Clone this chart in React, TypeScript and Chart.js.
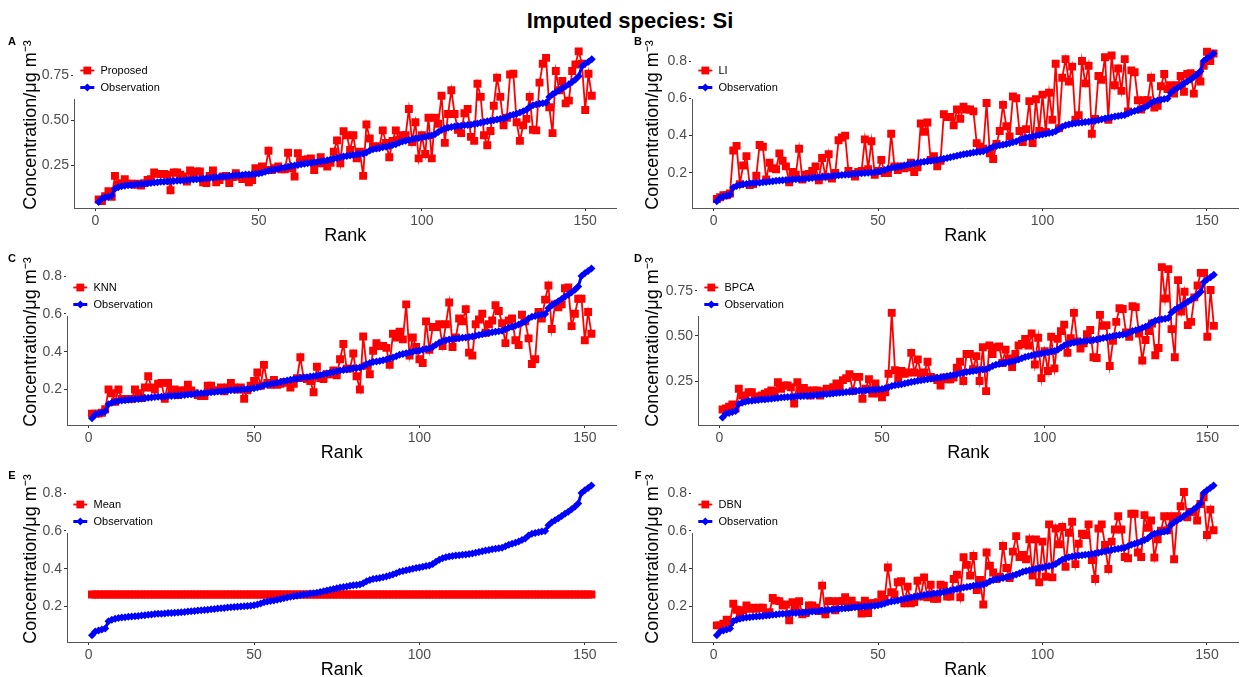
import React, { useEffect, useRef } from "react";
import { Chart, registerables } from "chart.js";

Chart.register(...registerables);

const FONT = "'Liberation Sans', Arial, Helvetica, sans-serif";

const TITLE = "Imputed species: Si";
const X_TITLE = "Rank";
const Y_TITLE = "Concentration/\u03bcg m\u207b\u00b3";
const OBS_LABEL = "Observation";

const RANK_TICKS = [0, 50, 100, 150];
const Y_TICKS_QUARTER = [0.25, 0.5, 0.75];
const Y_TICKS_FIFTH = [0.2, 0.4, 0.6, 0.8];

const OBSERVATION = [
  0.048, 0.068, 0.073, 0.078, 0.083, 0.122, 0.13, 0.135, 0.139, 0.141,
  0.143, 0.145, 0.147, 0.148, 0.15, 0.152, 0.154, 0.156, 0.158, 0.16,
  0.161, 0.162, 0.163, 0.165, 0.166, 0.167, 0.168, 0.17, 0.171, 0.173,
  0.175, 0.176, 0.178, 0.18, 0.181, 0.183, 0.185, 0.187, 0.189, 0.19,
  0.192, 0.194, 0.196, 0.197, 0.198, 0.2, 0.201, 0.202, 0.204, 0.206,
  0.21, 0.216, 0.222, 0.226, 0.229, 0.232, 0.236, 0.24, 0.244, 0.248,
  0.251, 0.254, 0.257, 0.26, 0.263, 0.265, 0.268, 0.27, 0.273, 0.276,
  0.28, 0.284, 0.288, 0.292, 0.296, 0.3, 0.303, 0.306, 0.309, 0.312,
  0.314, 0.316, 0.323, 0.333, 0.34, 0.345, 0.348, 0.351, 0.355, 0.359,
  0.364, 0.369, 0.376, 0.383, 0.388, 0.392, 0.396, 0.4, 0.403, 0.406,
  0.41, 0.414, 0.417, 0.424, 0.436, 0.447, 0.455, 0.46, 0.464, 0.467,
  0.469, 0.471, 0.473, 0.475, 0.477, 0.48, 0.484, 0.488, 0.492, 0.496,
  0.499, 0.502, 0.505, 0.508, 0.511, 0.518, 0.527, 0.532, 0.537, 0.544,
  0.551, 0.56, 0.575, 0.584, 0.589, 0.593, 0.596, 0.599, 0.63, 0.645,
  0.656, 0.666, 0.679, 0.69, 0.701, 0.714, 0.727, 0.745, 0.8, 0.815,
  0.826, 0.84,
];

const PROPOSED = [
  0.062, 0.053, 0.08, 0.108, 0.077, 0.193, 0.144, 0.153, 0.175, 0.15,
  0.15, 0.144, 0.15, 0.139, 0.153, 0.17, 0.175, 0.212, 0.204, 0.204,
  0.204, 0.199, 0.113, 0.212, 0.212, 0.199, 0.19, 0.162, 0.223, 0.199,
  0.217, 0.217, 0.157, 0.153, 0.193, 0.223, 0.157, 0.17, 0.19, 0.193,
  0.153, 0.186, 0.208, 0.19, 0.175, 0.193, 0.157, 0.17, 0.235, 0.217,
  0.245, 0.226, 0.332, 0.226, 0.235, 0.245, 0.23, 0.23, 0.321, 0.235,
  0.19, 0.318, 0.272, 0.281, 0.285, 0.29, 0.226, 0.263, 0.296, 0.263,
  0.245, 0.266, 0.327, 0.39, 0.263, 0.44, 0.418, 0.336, 0.418, 0.29,
  0.327, 0.193, 0.478, 0.4, 0.358, 0.35, 0.358, 0.445, 0.376, 0.296,
  0.387, 0.445, 0.394, 0.418, 0.418, 0.564, 0.381, 0.49, 0.29, 0.418,
  0.314, 0.515, 0.29, 0.515, 0.482, 0.637, 0.376, 0.536, 0.668, 0.536,
  0.449, 0.43, 0.54, 0.564, 0.409, 0.387, 0.704, 0.631, 0.418, 0.363,
  0.442, 0.582, 0.737, 0.631, 0.473, 0.515, 0.755, 0.759, 0.49, 0.387,
  0.473, 0.509, 0.631, 0.449, 0.445, 0.71, 0.814, 0.847, 0.573, 0.43,
  0.774, 0.668, 0.719, 0.595, 0.61, 0.774, 0.81, 0.883, 0.814, 0.558,
  0.759, 0.637,
];

const LI = [
  0.06, 0.07, 0.08, 0.08, 0.09, 0.32, 0.345, 0.14, 0.24, 0.29,
  0.135, 0.14, 0.185, 0.35, 0.34, 0.165, 0.255, 0.225, 0.22, 0.305,
  0.265, 0.235, 0.15, 0.205, 0.19, 0.33, 0.165, 0.19, 0.195, 0.21,
  0.235, 0.16, 0.28, 0.18, 0.3, 0.17, 0.2, 0.375, 0.39, 0.4,
  0.21, 0.195, 0.18, 0.205, 0.21, 0.38, 0.22, 0.37, 0.19, 0.21,
  0.27, 0.2, 0.2, 0.41, 0.235, 0.215, 0.235, 0.225, 0.23, 0.255,
  0.205, 0.23, 0.465, 0.42, 0.47, 0.27, 0.29, 0.235, 0.265, 0.515,
  0.5, 0.5, 0.455, 0.54, 0.49, 0.555, 0.54, 0.54, 0.53, 0.36,
  0.34, 0.33, 0.575, 0.305, 0.275, 0.355, 0.425, 0.565, 0.45, 0.395,
  0.61, 0.6, 0.425, 0.365, 0.435, 0.585, 0.36, 0.595, 0.425, 0.62,
  0.42, 0.63, 0.485, 0.785, 0.44, 0.71, 0.81, 0.69, 0.77, 0.485,
  0.51, 0.8, 0.68, 0.775, 0.41, 0.49, 0.72, 0.7, 0.82, 0.485,
  0.83, 0.67, 0.76, 0.64, 0.81, 0.53, 0.75, 0.74, 0.59, 0.54,
  0.59, 0.59, 0.71, 0.55, 0.56, 0.665, 0.73, 0.65, 0.67, 0.625,
  0.67, 0.72, 0.635, 0.73, 0.735, 0.625, 0.725, 0.69, 0.775, 0.85,
  0.8, 0.84,
];

const KNN = [
  0.072, 0.072, 0.072, 0.077, 0.095, 0.2, 0.18, 0.135, 0.2, 0.15,
  0.15, 0.15, 0.15, 0.2, 0.18, 0.155, 0.21, 0.27, 0.21, 0.2,
  0.23, 0.235, 0.15, 0.235, 0.195, 0.2, 0.17, 0.195, 0.195, 0.225,
  0.195, 0.18, 0.17, 0.165, 0.165, 0.22, 0.22, 0.195, 0.195, 0.21,
  0.19, 0.21, 0.235, 0.21, 0.2, 0.21, 0.15, 0.195, 0.22, 0.245,
  0.29, 0.22, 0.33, 0.235, 0.225, 0.25, 0.225, 0.23, 0.24, 0.235,
  0.21, 0.23, 0.26, 0.37, 0.26, 0.255, 0.245, 0.185, 0.32, 0.26,
  0.255, 0.28, 0.28, 0.3, 0.275, 0.36, 0.44, 0.31, 0.31, 0.39,
  0.27, 0.2, 0.48, 0.325, 0.28, 0.405, 0.445, 0.43, 0.43, 0.42,
  0.33, 0.495, 0.475, 0.505, 0.465, 0.65, 0.38, 0.475, 0.425, 0.36,
  0.34, 0.56, 0.41, 0.53, 0.53, 0.545, 0.43, 0.545, 0.66, 0.425,
  0.475, 0.575, 0.56, 0.625, 0.395, 0.38, 0.545, 0.57, 0.6, 0.5,
  0.545, 0.565, 0.645, 0.615, 0.55, 0.445, 0.565, 0.575, 0.46, 0.435,
  0.595, 0.56, 0.47, 0.335, 0.36, 0.61, 0.575, 0.675, 0.75, 0.52,
  0.65, 0.635, 0.65, 0.735, 0.74, 0.535, 0.6, 0.68, 0.68, 0.46,
  0.61, 0.495,
];

const BPCA = [
  0.092, 0.098, 0.107, 0.12, 0.098, 0.207, 0.17, 0.152, 0.188, 0.188,
  0.152, 0.165, 0.17, 0.18, 0.188, 0.197, 0.188, 0.243, 0.207, 0.225,
  0.225, 0.215, 0.125, 0.243, 0.197, 0.212, 0.197, 0.17, 0.197, 0.197,
  0.17, 0.194, 0.207, 0.188, 0.215, 0.237, 0.215, 0.255, 0.266, 0.288,
  0.194, 0.273, 0.273, 0.152, 0.207, 0.26, 0.18, 0.237, 0.18, 0.16,
  0.188, 0.29, 0.628, 0.31, 0.266, 0.306, 0.29, 0.297, 0.406, 0.297,
  0.37, 0.29, 0.297, 0.357, 0.273, 0.266, 0.255, 0.225, 0.27, 0.26,
  0.26, 0.27, 0.324, 0.357, 0.25, 0.4, 0.4, 0.315, 0.388, 0.25,
  0.437, 0.194, 0.447, 0.4, 0.437, 0.442, 0.35, 0.424, 0.375, 0.328,
  0.4, 0.447, 0.455, 0.484, 0.447, 0.514, 0.342, 0.49, 0.266, 0.415,
  0.306, 0.496, 0.32, 0.484, 0.527, 0.563, 0.406, 0.487, 0.628, 0.47,
  0.43, 0.46, 0.51, 0.533, 0.382, 0.378, 0.617, 0.556, 0.56, 0.333,
  0.473, 0.578, 0.654, 0.65, 0.52, 0.496, 0.665, 0.66, 0.514, 0.364,
  0.478, 0.527, 0.569, 0.393, 0.433, 0.882, 0.708, 0.871, 0.538, 0.382,
  0.81, 0.636, 0.745, 0.56, 0.578, 0.714, 0.78, 0.85, 0.85, 0.496,
  0.755, 0.556,
];

const MEAN_LEVEL = 0.263;

const DBN = [
  0.1, 0.1, 0.109, 0.13, 0.118, 0.214, 0.183, 0.162, 0.18, 0.205,
  0.188, 0.193, 0.188, 0.193, 0.193, 0.158, 0.17, 0.245, 0.231, 0.228,
  0.205, 0.21, 0.127, 0.223, 0.2, 0.228, 0.158, 0.165, 0.205, 0.205,
  0.193, 0.176, 0.31, 0.158, 0.228, 0.228, 0.18, 0.228, 0.228, 0.249,
  0.197, 0.231, 0.205, 0.205, 0.162, 0.231, 0.165, 0.217, 0.217, 0.223,
  0.263, 0.24, 0.406, 0.275, 0.263, 0.328, 0.333, 0.217, 0.305, 0.217,
  0.223, 0.336, 0.252, 0.354, 0.249, 0.315, 0.24, 0.24, 0.315, 0.31,
  0.252, 0.252, 0.345, 0.368, 0.249, 0.46, 0.42, 0.363, 0.467, 0.287,
  0.34, 0.21, 0.485, 0.415, 0.38, 0.345, 0.357, 0.52, 0.403, 0.35,
  0.49, 0.572, 0.462, 0.473, 0.45, 0.555, 0.363, 0.555, 0.328, 0.543,
  0.357, 0.634, 0.354, 0.612, 0.529, 0.62, 0.41, 0.59, 0.648, 0.424,
  0.532, 0.585, 0.578, 0.634, 0.445, 0.345, 0.612, 0.634, 0.525, 0.398,
  0.543, 0.607, 0.677, 0.607, 0.462, 0.455, 0.69, 0.69, 0.485, 0.462,
  0.683, 0.616, 0.655, 0.459, 0.555, 0.6, 0.677, 0.603, 0.677, 0.45,
  0.677, 0.73, 0.805, 0.672, 0.7, 0.7, 0.655, 0.742, 0.777, 0.578,
  0.712, 0.603,
];

type PanelDef = {
  letter: string;
  method: string;
  values: number[];
  yTicks: number[];
  decimals: number;
  yMin: number;
  yMax: number;
  left: number;
  top: number;
  yWidth: number;
  letterX: number;
};

const CANVAS_W = 622;
const CANVAS_H = 213;
const PAD_TOP = 10;
const X_MIN = -6.55;
const X_MAX = 159.55;

const PANELS: PanelDef[] = [
  { letter: "A", method: "Proposed", values: PROPOSED, yTicks: Y_TICKS_QUARTER, decimals: 2, yMin: 0.015, yMax: 0.935, left: 0, top: 32, yWidth: 74, letterX: 12 },
  { letter: "B", method: "LI", values: LI, yTicks: Y_TICKS_FIFTH, decimals: 1, yMin: 0.012, yMax: 0.902, left: 622, top: 32, yWidth: 70, letterX: 16 },
  { letter: "C", method: "KNN", values: KNN, yTicks: Y_TICKS_FIFTH, decimals: 1, yMin: 0.012, yMax: 0.89, left: 0, top: 249, yWidth: 67, letterX: 12 },
  { letter: "D", method: "BPCA", values: BPCA, yTicks: Y_TICKS_QUARTER, decimals: 2, yMin: 0.006, yMax: 0.927, left: 622, top: 249, yWidth: 76, letterX: 16 },
  { letter: "E", method: "Mean", values: OBSERVATION.map(() => MEAN_LEVEL), yTicks: Y_TICKS_FIFTH, decimals: 1, yMin: 0.012, yMax: 0.89, left: 0, top: 466, yWidth: 67, letterX: 12 },
  { letter: "F", method: "DBN", values: DBN, yTicks: Y_TICKS_FIFTH, decimals: 1, yMin: 0.012, yMax: 0.89, left: 622, top: 466, yWidth: 70, letterX: 16 },
];

const RED = "#FF0000";
const BLUE = "#0000FF";

function Panel({ def }: { def: PanelDef }) {
  const ref = useRef<HTMLCanvasElement>(null);

  useEffect(() => {
    const canvas = ref.current;
    if (!canvas) return;

    const legendPlugin = {
      id: "insetLegend" + def.letter,
      afterDraw(chart: any) {
        const { ctx, chartArea } = chart;
        const L = chartArea.left;
        const T = chartArea.top;
        ctx.save();
        ctx.fillStyle = "#FFFFFF";
        ctx.fillRect(L - 1, T - 1, 100, 58);
        const rows = [
          { label: def.method, color: RED, kind: "rect" },
          { label: OBS_LABEL, color: BLUE, kind: "diamond" },
        ];
        rows.forEach((row, i) => {
          const y = T + 28.5 + i * 17;
          const cx = L + 13.3;
          ctx.strokeStyle = row.color;
          ctx.fillStyle = row.color;
          ctx.lineWidth = row.kind === "rect" ? 1.8 : 3;
          ctx.beginPath();
          ctx.moveTo(cx - 7, y);
          ctx.lineTo(cx + 7, y);
          ctx.stroke();
          ctx.beginPath();
          if (row.kind === "rect") {
            ctx.rect(cx - 3.9, y - 3.9, 7.8, 7.8);
          } else {
            ctx.moveTo(cx - 4, y);
            ctx.lineTo(cx, y - 4);
            ctx.lineTo(cx + 4, y);
            ctx.lineTo(cx, y + 4);
            ctx.closePath();
          }
          ctx.fill();
          ctx.fillStyle = "#000000";
          ctx.font = `11px ${FONT}`;
          ctx.textBaseline = "middle";
          ctx.textAlign = "left";
          ctx.fillText(row.label, L + 26.5, y);
        });
        ctx.fillStyle = "#000000";
        ctx.font = `bold 11px ${FONT}`;
        ctx.textAlign = "center";
        ctx.textBaseline = "middle";
        ctx.fillText(def.letter, def.letterX, T);
        ctx.restore();
      },
    };

    const chart = new Chart(canvas, {
      type: "line",
      data: {
        datasets: [
          {
            label: OBS_LABEL,
            data: OBSERVATION.map((v, i) => ({ x: i + 1, y: v })),
            borderColor: BLUE,
            backgroundColor: BLUE,
            borderWidth: 3,
            pointStyle: "rectRot",
            pointRadius: 4,
            pointBorderWidth: 0,
            pointBackgroundColor: BLUE,
            tension: 0,
          },
          {
            label: def.method,
            data: def.values.map((v, i) => ({ x: i + 1, y: v })),
            borderColor: RED,
            backgroundColor: RED,
            borderWidth: 1.8,
            pointStyle: "rect",
            pointRadius: 5.6,
            pointBorderWidth: 0,
            pointBackgroundColor: RED,
            tension: 0,
          },
        ],
      },
      options: {
        responsive: false,
        maintainAspectRatio: false,
        animation: false,
        devicePixelRatio: 1,
        layout: { padding: { top: PAD_TOP, left: 0, right: 1, bottom: 0 } },
        plugins: {
          legend: { display: false },
          tooltip: { enabled: false },
        },
        scales: {
          x: {
            type: "linear",
            min: X_MIN,
            max: X_MAX,
            afterBuildTicks: (s: any) => {
              s.ticks = RANK_TICKS.map((v) => ({ value: v }));
            },
            afterFit: (s: any) => {
              s.height = 37;
            },
            ticks: {
              autoSkip: false,
              maxRotation: 0,
              padding: 2,
              color: "#4D4D4D",
              font: { size: 14, family: FONT },
              callback: (v: any) => String(v),
            },
            grid: {
              display: true,
              drawOnChartArea: false,
              drawTicks: true,
              tickLength: 3,
              color: "#333333",
            },
            border: { display: true, color: "#555555", width: 1 },
            title: {
              display: true,
              text: X_TITLE,
              color: "#000000",
              font: { size: 18, family: FONT, lineHeight: 1 },
              padding: { top: 0, bottom: 0 },
            },
          },
          y: {
            type: "linear",
            min: def.yMin,
            max: def.yMax,
            afterBuildTicks: (s: any) => {
              s.ticks = def.yTicks.map((v) => ({ value: v }));
            },
            afterFit: (s: any) => {
              s.width = def.yWidth;
            },
            ticks: {
              padding: 2,
              color: "#4D4D4D",
              font: { size: 14, family: FONT, lineHeight: 16 / 14 },
              callback: (v: any) => Number(v).toFixed(def.decimals),
            },
            grid: {
              display: true,
              drawOnChartArea: false,
              drawTicks: true,
              tickLength: 3,
              color: "#333333",
            },
            border: { display: true, color: "#555555", width: 1 },
            title: {
              display: true,
              text: Y_TITLE,
              color: "#000000",
              font: { size: 18, family: FONT, lineHeight: 1 },
              padding: { top: 22, bottom: 0 },
            },
          },
        },
      } as any,
      plugins: [legendPlugin],
    });

    return () => chart.destroy();
  }, [def]);

  return (
    <canvas
      ref={ref}
      width={CANVAS_W}
      height={CANVAS_H}
      style={{ position: "absolute", left: def.left, top: def.top, width: CANVAS_W, height: CANVAS_H }}
    />
  );
}

export default function App() {
  return (
    <div
      style={{
        position: "absolute",
        left: 0,
        top: 0,
        width: 1244,
        height: 677,
        overflow: "hidden",
        background: "#FFFFFF",
        fontFamily: FONT,
      }}
    >
      <div
        style={{
          position: "absolute",
          left: 480,
          top: 8,
          width: 300,
          textAlign: "center",
          fontWeight: "bold",
          fontSize: 22,
          lineHeight: "26px",
          color: "#000",
        }}
      >
        {TITLE}
      </div>
      {PANELS.map((p) => (
        <Panel key={p.letter} def={p} />
      ))}
    </div>
  );
}
